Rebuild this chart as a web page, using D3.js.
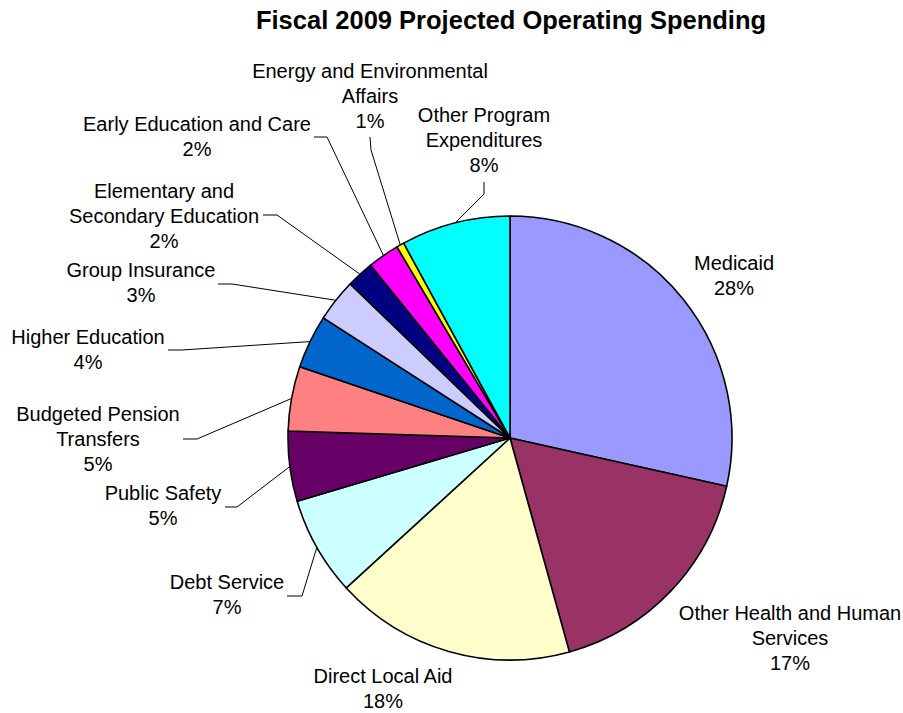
<!DOCTYPE html>
<html>
<head>
<meta charset="utf-8">
<script src="https://cdn.jsdelivr.net/npm/d3@7/dist/d3.min.js"></script>
<style>
  html, body { margin: 0; padding: 0; background: #ffffff; }
  text { font-family: "Liberation Sans", Arial, sans-serif; fill: #000; }
</style>
</head>
<body>
<svg id="chart" width="903" height="713"></svg>
<script>
// ---- data ----
const title = "Fiscal 2009 Projected Operating Spending";
const categories = [
  "Medicaid",
  "Other Health and Human Services",
  "Direct Local Aid",
  "Debt Service",
  "Public Safety",
  "Budgeted Pension Transfers",
  "Higher Education",
  "Group Insurance",
  "Elementary and Secondary Education",
  "Early Education and Care",
  "Energy and Environmental Affairs",
  "Other Program Expenditures"
];
const shares = [28.49, 17.2, 17.51, 7.2, 5.1, 4.7, 3.9, 3.1, 2.0, 2.3, 0.55, 7.95];
const labelLines = [
  ["Medicaid"],
  ["Other Health and Human", "Services"],
  ["Direct Local Aid"],
  ["Debt Service"],
  ["Public Safety"],
  ["Budgeted Pension", "Transfers"],
  ["Higher Education"],
  ["Group Insurance"],
  ["Elementary and", "Secondary Education"],
  ["Early Education and Care"],
  ["Energy and Environmental", "Affairs"],
  ["Other Program", "Expenditures"]
];
const colors = ["#9999FF", "#993366", "#FFFFCC", "#CCFFFF", "#660066", "#FF8080",
                "#0066CC", "#CCCCFF", "#000080", "#FF00FF", "#FFFF00", "#00FFFF"];

// ---- layout (label anchor: centre x, first baseline y, leader start & knee) ----
const labelLayout = [
  {x: 734, y: 270},
  {x: 790, y: 620},
  {x: 383, y: 683},
  {x: 227, y: 589, lead: [[287, 596], [302, 596]]},
  {x: 163, y: 500, lead: [[225, 507], [237, 507]]},
  {x: 98,  y: 421, lead: [[183, 439], [197, 439]]},
  {x: 88,  y: 344, lead: [[168, 350], [182, 350]]},
  {x: 141, y: 277, lead: [[218, 284], [232, 284]]},
  {x: 164, y: 198, lead: [[263, 215], [277, 215]]},
  {x: 197, y: 131, lead: [[314, 137], [327, 137]]},
  {x: 370, y: 78,  lead: [[370, 137], [371, 150]]},
  {x: 484, y: 122, lead: [[484, 182], [484, 194]]}
];

const cx = 510, cy = 438, R = 222;
const svg = d3.select("#chart");

svg.append("text")
  .attr("x", 511).attr("y", 29)
  .attr("text-anchor", "middle")
  .style("font-weight", "bold")
  .style("font-size", "25.5px")
  .text(title);

const data = categories.map((c, i) => ({name: c, value: shares[i], color: colors[i], lines: labelLines[i], lay: labelLayout[i]}));
const total = d3.sum(shares);

const pie = d3.pie().value(d => d.value).sort(null).startAngle(0).endAngle(2 * Math.PI);
const arcs = pie(data);
const arc = d3.arc().innerRadius(0).outerRadius(R);

const g = svg.append("g").attr("transform", `translate(${cx},${cy})`);
g.selectAll("path.slice").data(arcs).join("path")
  .attr("class", "slice")
  .attr("d", arc)
  .attr("fill", d => d.data.color)
  .attr("stroke", "#000")
  .attr("stroke-width", 1.6)
  .attr("stroke-linejoin", "round");

// leader lines
const line = d3.line();
arcs.forEach(a => {
  const lay = a.data.lay;
  if (!lay.lead) return;
  const mid = (a.startAngle + a.endAngle) / 2;
  const ex = cx + R * Math.sin(mid), ey = cy - R * Math.cos(mid);
  svg.append("path")
    .attr("d", line([lay.lead[0], lay.lead[1], [ex, ey]]))
    .attr("fill", "none")
    .attr("stroke", "#000")
    .attr("stroke-width", 1);
});

// labels
const pct = d3.format(".0f");
arcs.forEach(a => {
  const lay = a.data.lay;
  const lines = a.data.lines.concat([pct(a.data.value / total * 100) + "%"]);
  const t = svg.append("text")
    .attr("text-anchor", "middle")
    .style("font-size", "20px");
  lines.forEach((s, i) => {
    t.append("tspan").attr("x", lay.x).attr("y", lay.y + i * 25).text(s);
  });
});
</script>
</body>
</html>
